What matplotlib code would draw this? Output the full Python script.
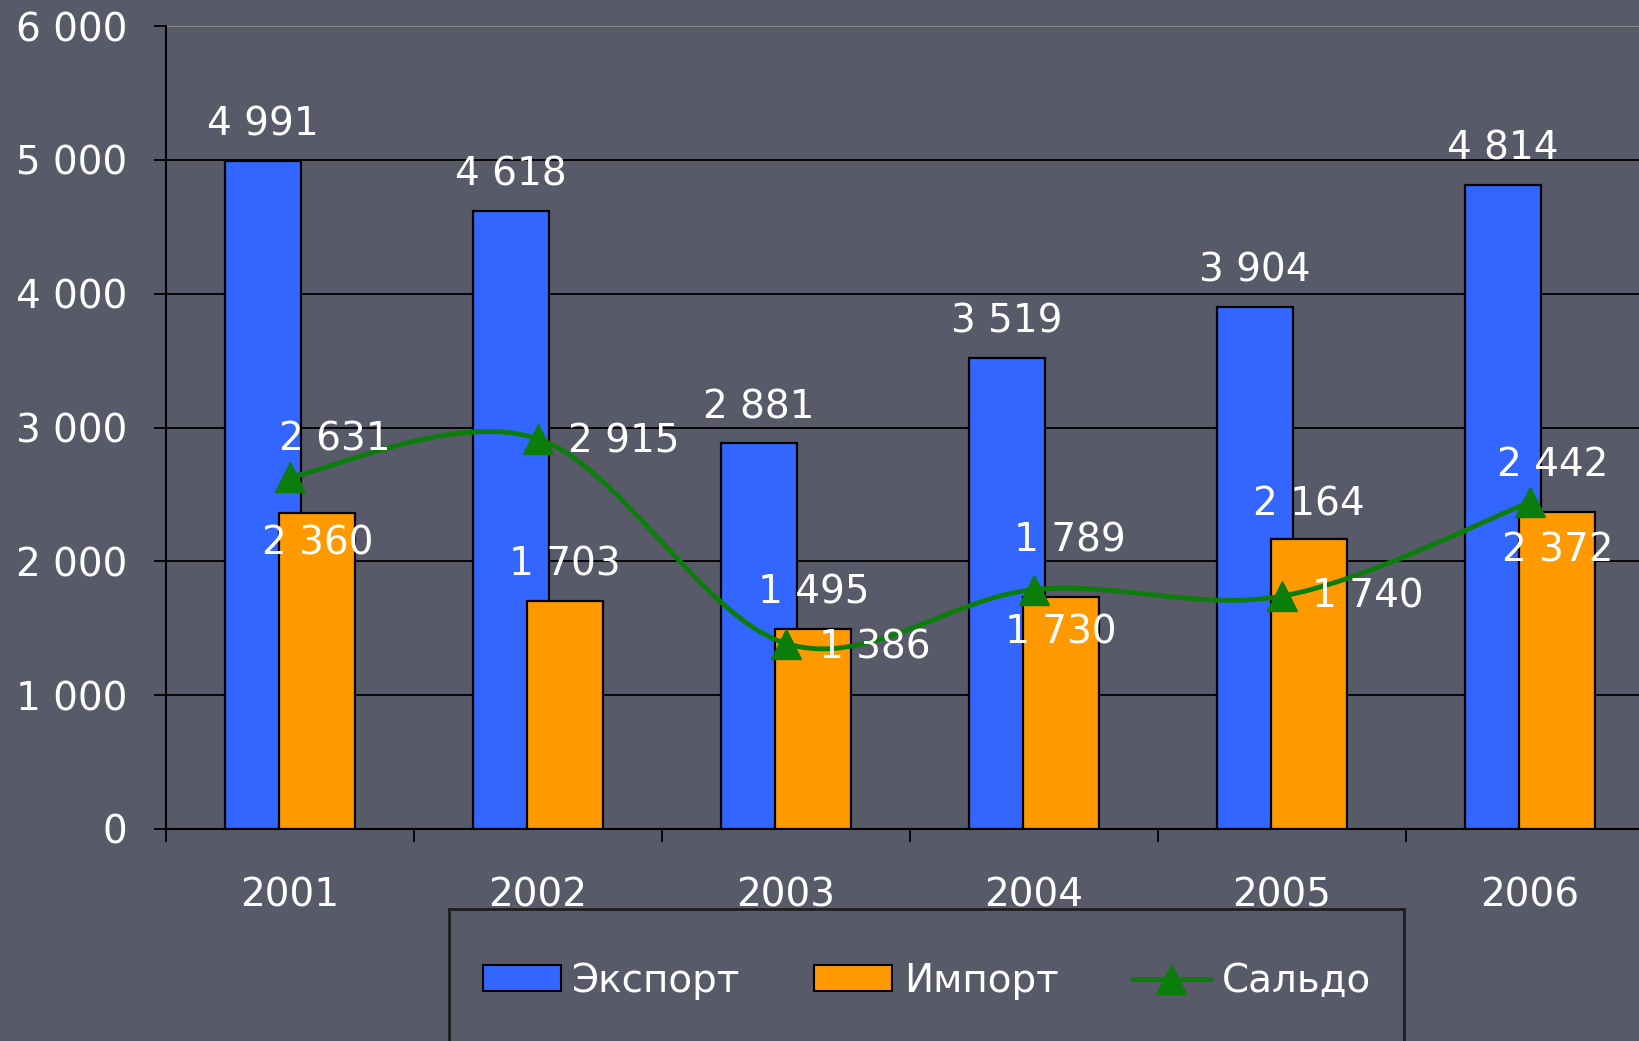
import matplotlib
matplotlib.use("Agg")
import numpy as np
import matplotlib.pyplot as plt
from matplotlib.path import Path
from matplotlib.patches import PathPatch, Patch, Rectangle
from matplotlib.lines import Line2D

years = ['2001', '2002', '2003', '2004', '2005', '2006']
export = [4991, 4618, 2881, 3519, 3904, 4814]
imports = [2360, 1703, 1495, 1730, 2164, 2372]
saldo = [2631, 2915, 1386, 1789, 1740, 2442]

# label offsets (points) -- placement only
imp_dy = [-22, 26, 26, -25, 25, -28]
sal_off = [(32, 27), (62, -2), (64, -3), (26, 35), (62, 0), (16, 27)]

bg = '#585a69'
blue = '#3366ff'
orange = '#ff9900'
green = '#0b7d0b'
fs = 28

plt.rcParams['font.family'] = ['DejaVu Sans']

def fmt(v):
    return f'{v:,}'.replace(',', ' ')

fig = plt.figure(figsize=(16.4, 10.41), dpi=100, facecolor=bg)
ax = fig.add_axes([166 / 1640, 1 - 829 / 1041, 6 * 248 / 1640, 803 / 1041])
ax.set_facecolor(bg)

x = np.arange(len(years))
w = 0.306
ax.bar(x - 0.11, export, width=w, color=blue, edgecolor='black', lw=1.6, zorder=2)
ax.bar(x + 0.11, imports, width=w, color=orange, edgecolor='black', lw=1.6, zorder=3)

# smoothed line (Excel-style bezier through the points)
pts = np.column_stack([x, saldo]).astype(float)
ext = np.vstack([pts[0], pts, pts[-1]])
verts = [tuple(pts[0])]
codes = [Path.MOVETO]
for i in range(len(pts) - 1):
    p0, p1, p2, p3 = ext[i], ext[i + 1], ext[i + 2], ext[i + 3]
    c1 = p1 + (p2 - p0) / 6
    c2 = p2 - (p3 - p1) / 6
    verts += [tuple(c1), tuple(c2), tuple(p2)]
    codes += [Path.CURVE4] * 3
ax.add_patch(PathPatch(Path(verts, codes), fill=False, edgecolor=green, lw=3.5, zorder=4))
ax.plot(x, saldo, ls='none', marker='^', ms=21, color=green, zorder=5)

for i in range(len(years)):
    ax.annotate(fmt(export[i]), (x[i] - 0.11, export[i]), xytext=(0, 26),
                textcoords='offset points', ha='center', va='center',
                color='white', fontsize=fs, zorder=6)
    ax.annotate(fmt(imports[i]), (x[i] + 0.11, imports[i]), xytext=(0, imp_dy[i]),
                textcoords='offset points', ha='center', va='center',
                color='white', fontsize=fs, zorder=6)
    ax.annotate(fmt(saldo[i]), (x[i], saldo[i]), xytext=sal_off[i],
                textcoords='offset points', ha='center', va='center',
                color='white', fontsize=fs, zorder=6)

ax.set_xlim(-0.5, 5.5)
ax.set_ylim(0, 6000)
ax.set_yticks(range(0, 6001, 1000))
ax.set_yticklabels([fmt(v) for v in range(0, 6001, 1000)])
ax.set_xticks(x)
ax.set_xticklabels(years)
ax.set_xticks(np.arange(-0.5, 5.6, 1), minor=True)
ax.tick_params(axis='x', which='major', length=0, pad=34, labelcolor='white', labelsize=fs)
ax.tick_params(axis='x', which='minor', length=9, width=1.3, color='black', direction='out')
ax.tick_params(axis='y', length=9, width=1.3, color='black', pad=19, labelcolor='white', labelsize=fs)

ax.grid(axis='y', color='black', lw=1.3, zorder=1)
ax.get_ygridlines()[-1].set_color('#8c8c8c')
ax.set_axisbelow(True)
for s in ('top', 'right'):
    ax.spines[s].set_visible(False)
for s in ('left', 'bottom'):
    ax.spines[s].set_color('black')
    ax.spines[s].set_linewidth(1.5)

# legend box runs off the bottom of the slide
fig.patches.append(Rectangle((449 / 1640, -0.1), 955 / 1640, 0.1 + 1 - 909 / 1041,
                             transform=fig.transFigure, facecolor='none',
                             edgecolor='#1e1e1e', lw=2))
handles = [Patch(facecolor=blue, edgecolor='black', lw=1.5),
           Patch(facecolor=orange, edgecolor='black', lw=1.5),
           Line2D([], [], color=green, lw=3.5, marker='^', ms=21)]
fig.legend(handles, ['Экспорт', 'Импорт', 'Сальдо'], loc='center',
           bbox_to_anchor=(927 / 1640, 1 - 981 / 1041), ncol=3, frameon=False,
           fontsize=fs, labelcolor='white', handlelength=2.0, handleheight=0.65,
           handletextpad=0.3, columnspacing=1.9)

fig.savefig('out.png', dpi=100, facecolor=bg)
